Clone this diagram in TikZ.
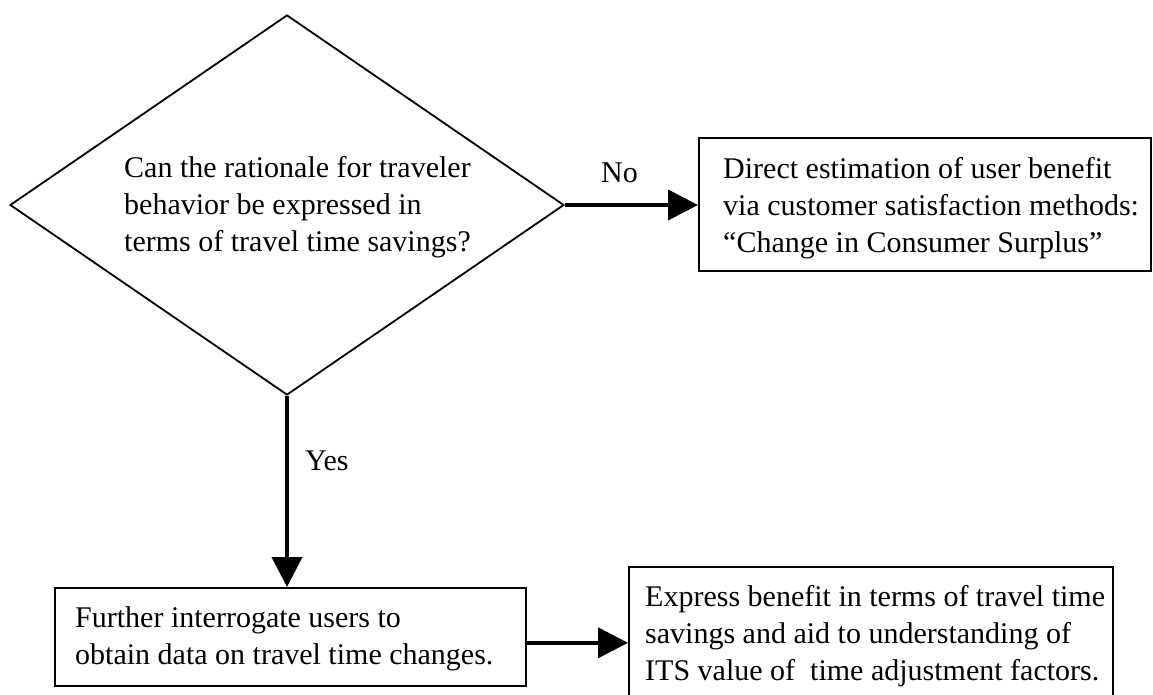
\documentclass[tikz,border=0pt]{standalone}
\usepackage{fontspec}
\setmainfont{Liberation Serif}
\usetikzlibrary{arrows.meta,shapes.geometric}
\begin{document}
\begin{tikzpicture}[x=1pt,y=-1pt,
  txt/.style={font=\fontsize{30}{37}\selectfont, align=left, inner sep=0pt},
  lbl/.style={font=\fontsize{30}{37}\selectfont, inner sep=0pt},
  box/.style={draw, line width=1.6pt, inner sep=0pt, anchor=north west},
  decision/.style={draw, diamond, line width=1.8pt, inner sep=0pt},
  flow/.style={line width=4pt, -{Triangle[length=30pt,width=30pt]}}]
  \useasboundingbox (0,0) rectangle (1153,694);

  % decision diamond
  \node[decision, minimum width=554pt, minimum height=380pt] (q) at (287,205) {};
  \node[txt, anchor=west] (qt) at (124,207)
    {Can the rationale for traveler\\behavior be expressed in\\terms of travel time savings?};

  % outcome boxes
  \node[box, minimum width=452pt, minimum height=133pt] (b1) at (698,137) {};
  \node[txt, anchor=west] (b1t) at (723,208)
    {Direct estimation of user benefit\\via customer satisfaction methods:\\``Change in Consumer Surplus''};

  \node[box, minimum width=471pt, minimum height=98pt] (b2) at (54,587) {};
  \node[txt, anchor=west] (b2t) at (75,639)
    {Further interrogate users to\\obtain data on travel time changes.};

  \node[box, minimum width=484pt, minimum height=145pt] (b3) at (628,566) {};
  \node[txt, anchor=west] (b3t) at (645,636)
    {Express benefit in terms of travel time\\savings and aid to understanding of\\ITS value of\ \ time adjustment factors.};

  % connectors
  \draw[flow] (q.east) -- node[lbl, pos=0.41, above=20pt] (no) {No} (q.east -| b1.west);
  \draw[flow] (q.south) -- node[lbl, pos=0.34, right=16pt] (yes) {Yes} (q.south |- b2.north);
  \draw[flow] ([yshift=-6pt]b2.east) -- ([yshift=-6pt]b2.east -| b3.west);
\end{tikzpicture}
\end{document}
